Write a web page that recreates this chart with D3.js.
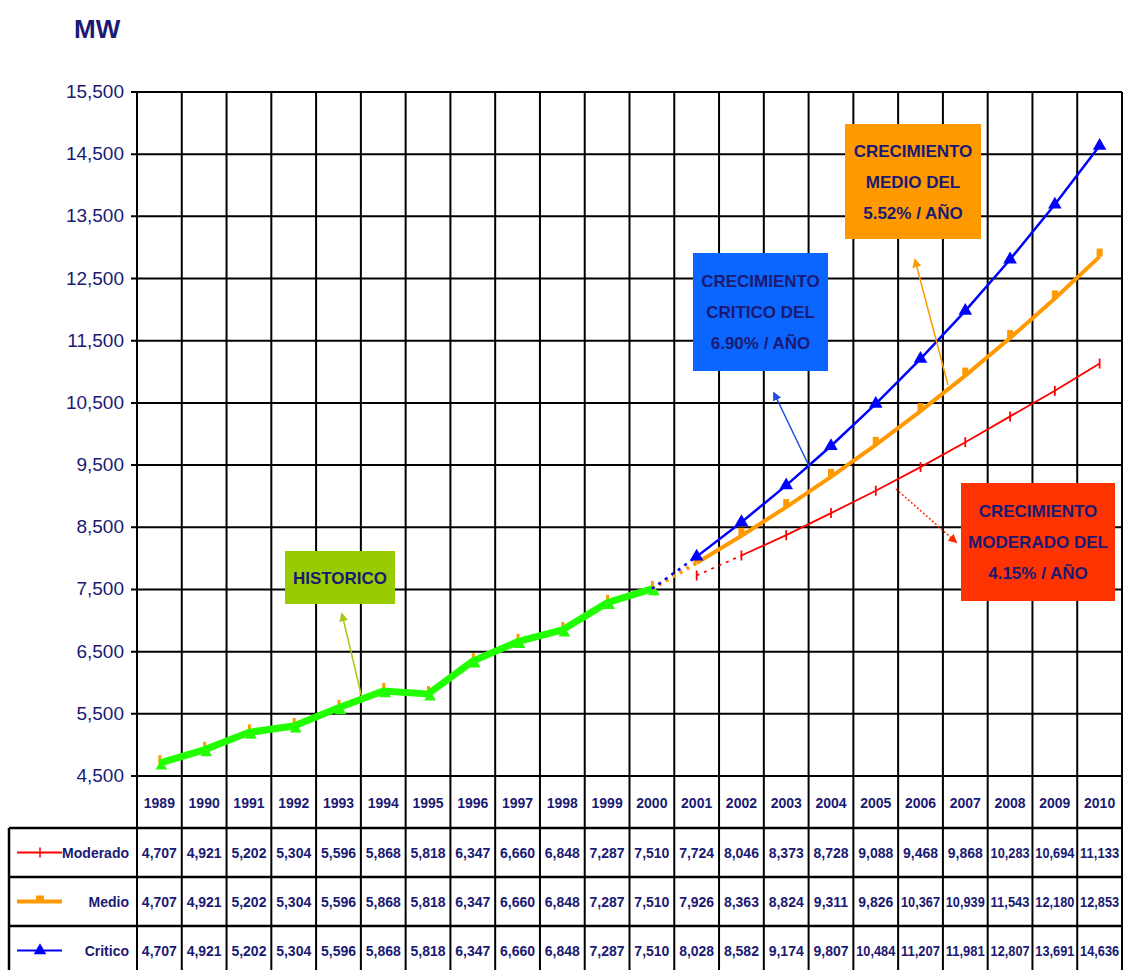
<!DOCTYPE html>
<html>
<head>
<meta charset="utf-8">
<script src="https://cdn.jsdelivr.net/npm/d3@7"></script>
<style>
  body{margin:0;background:#fff;}
  text{font-family:"Liberation Sans Narrow","Liberation Sans",Arial,sans-serif;}
</style>
</head>
<body>
<div id="chart-area"></div>
<script>
//Data
var years = ["1989","1990","1991","1992","1993","1994","1995","1996","1997","1998","1999","2000",
             "2001","2002","2003","2004","2005","2006","2007","2008","2009","2010"]
var historico = [4707,4921,5202,5304,5596,5868,5818,6347,6660,6848,7287,7510]
var moderado = [4707,4921,5202,5304,5596,5868,5818,6347,6660,6848,7287,7510,
                7724,8046,8373,8728,9088,9468,9868,10283,10694,11133]
var medio = [4707,4921,5202,5304,5596,5868,5818,6347,6660,6848,7287,7510,
             7926,8363,8824,9311,9826,10367,10939,11543,12180,12853]
var critico = [4707,4921,5202,5304,5596,5868,5818,6347,6660,6848,7287,7510,
               8028,8582,9174,9807,10484,11207,11981,12807,13691,14636]
var yTicks = [4500,5500,6500,7500,8500,9500,10500,11500,12500,13500,14500,15500]

var navy = "#1a1a72"

//Canvas
var W = 1132, H = 970
var plotL = 137, plotR = 1122, plotT = 92, plotB = 776

var svg = d3.select("#chart-area").append("svg")
    .attr("width",W).attr("height",H)

//Scales
var x = d3.scaleBand().domain(years).range([plotL,plotR]).padding(0)
var y = d3.scaleLinear().domain([4500,15500]).range([plotB,plotT])

//Arrow markers
var defs = svg.append("defs")
var arrowColors = {green:"#a8c81a",blue:"#1f4fe0",orange:"#ff9900",red:"#ff2a00"}
Object.keys(arrowColors).forEach((k)=>{
    defs.append("marker")
        .attr("id","arr-"+k)
        .attr("viewBox","0 0 10 10")
        .attr("refX",8).attr("refY",5)
        .attr("markerWidth",6).attr("markerHeight",6)
        .attr("orient","auto")
      .append("path")
        .attr("d","M0,0 L10,5 L0,10 z")
        .attr("fill",arrowColors[k])
})

//MW label
svg.append("text")
    .attr("x",74).attr("y",38)
    .attr("font-size","26px").attr("font-weight","bold")
    .attr("fill",navy)
    .style("font-family","'Liberation Sans', Arial, sans-serif")
    .text("MW")

//Horizontal grid + y labels
svg.append("g").selectAll("line").data(yTicks).enter().append("line")
    .attr("x1",plotL-6).attr("x2",plotR)
    .attr("y1",(d)=>y(d)).attr("y2",(d)=>y(d))
    .attr("stroke","#000").attr("stroke-width",2)

svg.append("g").selectAll("text").data(yTicks).enter().append("text")
    .attr("x",124).attr("y",(d)=>y(d)+6)
    .attr("text-anchor","end")
    .attr("font-size","19px")
    .attr("fill",navy)
    .text((d)=>d3.format(",")(d))

//Vertical grid through year row and table
var tableTop = 828, rowH = 49
var colEdges = years.map((d)=>x(d)).concat([plotR])
svg.append("g").selectAll("line").data(colEdges).enter().append("line")
    .attr("x1",(d)=>d).attr("x2",(d)=>d)
    .attr("y1",plotT).attr("y2",tableTop + rowH*3 + 5)
    .attr("stroke","#000").attr("stroke-width",2)

//Year labels
svg.append("g").selectAll("text").data(years).enter().append("text")
    .attr("x",(d)=>x(d)+x.bandwidth()/2)
    .attr("y",808)
    .attr("text-anchor","middle")
    .attr("font-size","14px").attr("font-weight","bold")
    .attr("fill",navy)
    .text((d)=>d)

//Table
var rows = [
    {name:"Moderado",values:moderado,color:"#ff0000"},
    {name:"Medio",values:medio,color:"#ff9900"},
    {name:"Critico",values:critico,color:"#0000ff"}
]
var tbl = svg.append("g")
tbl.selectAll("line.h").data([0,1,2,3]).enter().append("line")
    .attr("x1",9).attr("x2",plotR)
    .attr("y1",(d)=>tableTop+d*rowH).attr("y2",(d)=>tableTop+d*rowH)
    .attr("stroke","#000").attr("stroke-width",2.5)
tbl.append("line")
    .attr("x1",9).attr("x2",9).attr("y1",tableTop).attr("y2",H)
    .attr("stroke","#000").attr("stroke-width",2.5)

rows.forEach((r,i)=>{
    var cy = tableTop + i*rowH + rowH/2
    tbl.selectAll("text.v"+i).data(r.values).enter().append("text")
        .attr("x",(d,j)=>x(years[j])+x.bandwidth()/2)
        .attr("y",cy+5)
        .attr("text-anchor","middle")
        .attr("font-size","14px").attr("font-weight","bold")
        .attr("fill",navy)
        .attr("textLength",(d)=>d>=10000 ? 39 : null)
        .attr("lengthAdjust","spacingAndGlyphs")
        .text((d)=>d3.format(",")(d))
    tbl.append("text")
        .attr("x",129).attr("y",cy+5)
        .attr("text-anchor","end")
        .attr("font-size","14px").attr("font-weight","bold")
        .attr("fill",navy)
        .text(r.name)
    //legend swatch
    tbl.append("line")
        .attr("x1",17).attr("x2",62).attr("y1",cy).attr("y2",cy)
        .attr("stroke",r.color).attr("stroke-width",i==1 ? 4 : 2)
    if(i==0){
        tbl.append("line").attr("x1",40).attr("x2",40).attr("y1",cy-5).attr("y2",cy+5)
            .attr("stroke",r.color).attr("stroke-width",1.5)
    } else if(i==1){
        tbl.append("rect").attr("x",36).attr("y",cy-6).attr("width",8).attr("height",6)
            .attr("fill",r.color)
    } else {
        tbl.append("path")
            .attr("transform","translate(40,"+cy+")")
            .attr("d",d3.symbol(d3.symbolTriangle,70)())
            .attr("fill",r.color)
    }
})

//Series lines
var cx = (i)=>x(years[i])+x.bandwidth()/2
var line = d3.line().x((d)=>cx(d.i)).y((d)=>y(d.v))
var pts = (arr,from,to)=>arr.slice(from,to+1).map((v,k)=>({i:from+k,v:v}))

//Historic orange ticks peeking above green line
svg.append("g").selectAll("rect").data(pts(medio,0,11)).enter().append("rect")
    .attr("x",(d)=>cx(d.i)-1).attr("y",(d)=>y(d.v)-8)
    .attr("width",3).attr("height",9).attr("fill","#ff9900")

svg.append("path").datum(pts(historico,0,11))
    .attr("d",line).attr("fill","none")
    .attr("stroke","#22ff00").attr("stroke-width",7)
svg.append("g").selectAll("path").data(pts(historico,0,11)).enter().append("path")
    .attr("transform",(d)=>"translate("+(cx(d.i)+2)+","+(y(d.v)+3)+")")
    .attr("d",d3.symbol(d3.symbolTriangle,60)())
    .attr("fill","#22ff00")

//Forecast series
function drawSeries(arr,start,color,width){
    svg.append("path").datum(pts(arr,start,start+1))
        .attr("d",line).attr("fill","none")
        .attr("stroke",color).attr("stroke-width",width)
        .attr("stroke-dasharray","3,5")
    svg.append("path").datum(pts(arr,start+1,21))
        .attr("d",line).attr("fill","none")
        .attr("stroke",color).attr("stroke-width",width)
}
drawSeries(moderado,12,"#ff0000",1.8)
drawSeries(medio,11,"#ff9900",4)
drawSeries(critico,11,"#0000ff",2.5)

//Markers
svg.append("g").selectAll("line").data(pts(moderado,12,21)).enter().append("line")
    .attr("x1",(d)=>cx(d.i)).attr("x2",(d)=>cx(d.i))
    .attr("y1",(d)=>y(d.v)-5).attr("y2",(d)=>y(d.v)+5)
    .attr("stroke","#ff0000").attr("stroke-width",1.8)
svg.append("g").selectAll("rect").data(pts(medio,12,21)).enter().append("rect")
    .attr("x",(d)=>cx(d.i)-3).attr("y",(d)=>y(d.v)-8)
    .attr("width",6).attr("height",8).attr("fill","#ff9900")
svg.append("g").selectAll("path").data(pts(critico,12,21)).enter().append("path")
    .attr("transform",(d)=>"translate("+cx(d.i)+","+y(d.v)+")")
    .attr("d",d3.symbol(d3.symbolTriangle,80)())
    .attr("fill","#0000ff")

//Annotation arrows
function arrow(x1,y1,x2,y2,k,dash){
    svg.append("line")
        .attr("x1",x1).attr("y1",y1).attr("x2",x2).attr("y2",y2)
        .attr("stroke",arrowColors[k]).attr("stroke-width",1.5)
        .attr("stroke-dasharray",dash || null)
        .attr("marker-end","url(#arr-"+k+")")
}
arrow(362,698,342,614,"green")
arrow(810,468,774,393,"blue")
arrow(948,385,915,260,"orange")
arrow(896,489,956,542,"red","2,2")

//Annotation boxes
function box(x0,y0,w,h,fill,lines){
    svg.append("rect").attr("x",x0).attr("y",y0).attr("width",w).attr("height",h)
        .attr("fill",fill)
    var lh = lines.length>1 ? 31 : 0
    var startY = y0 + h/2 - (lines.length-1)*lh/2 + 6
    lines.forEach((t,i)=>{
        svg.append("text")
            .attr("x",x0+w/2).attr("y",startY+i*lh)
            .attr("text-anchor","middle")
            .attr("font-size","17px").attr("font-weight","bold")
            .attr("fill",navy)
            .text(t)
    })
}
box(285,551,110,53,"#99cc00",["HISTORICO"])
box(693,253,135,118,"#0a66ff",["CRECIMIENTO","CRITICO DEL","6.90% / AÑO"])
box(845,124,136,115,"#ff9900",["CRECIMIENTO","MEDIO DEL","5.52% / AÑO"])
box(961,483,154,118,"#ff3300",["CRECIMIENTO","MODERADO DEL","4.15% / AÑO"])
</script>
</body>
</html>
